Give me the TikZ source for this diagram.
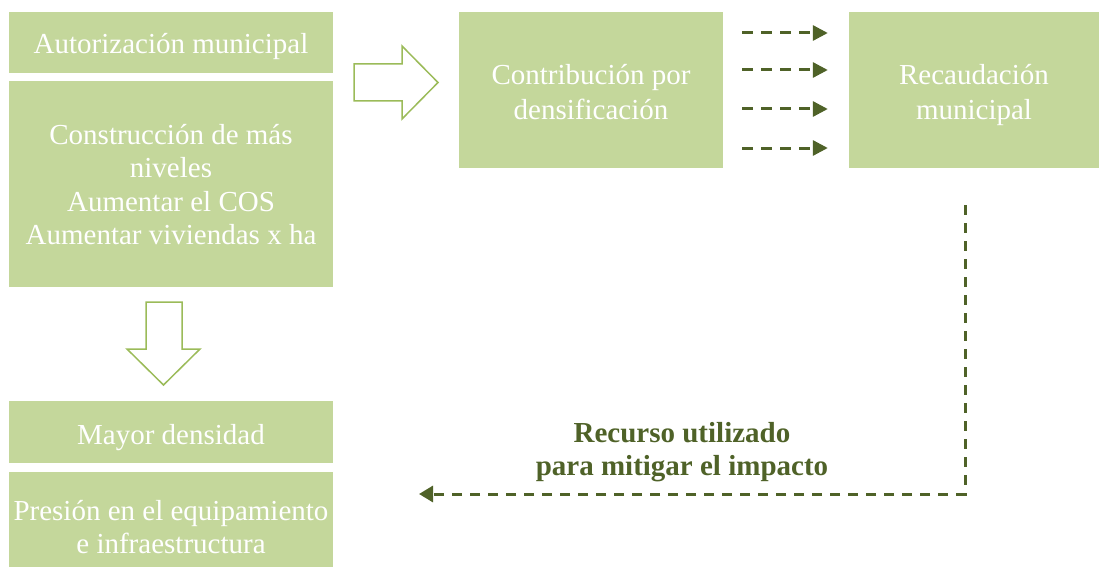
\documentclass[tikz,border=0pt]{standalone}
\usepackage{fontspec}
\setmainfont{Liberation Serif}
\usetikzlibrary{arrows.meta}
\definecolor{boxgreen}{HTML}{C4D79B}
\definecolor{linegreen}{HTML}{9BBB59}
\definecolor{darkolive}{HTML}{4F6228}
\newcommand{\boxtext}[2]{\raisebox{#1}[0pt][0pt]{\begin{tabular}{@{}c@{}}#2\end{tabular}}}
\begin{document}
\begin{tikzpicture}[x=1pt,y=-1pt,
  box/.style={fill=boxgreen,draw=none,text=white,align=center,inner sep=0pt,
    font=\fontsize{29}{33.5}\selectfont},
  blockarrow/.style={draw=linegreen,line width=1.5pt,fill=white,line join=miter},
  dasharrow/.style={draw=darkolive,line width=3pt,dash pattern=on 11pt off 8pt,
    -{Triangle[length=15pt,width=15pt]}},
  fbarrow/.style={draw=darkolive,line width=3pt,dash pattern=on 10pt off 8pt,
    -{Triangle[length=14pt,width=16pt]}},
  lbl/.style={text=darkolive,align=center,font=\fontsize{29}{32.5}\selectfont\bfseries}]
\useasboundingbox (0,0) rectangle (1099,567);

\node[box,minimum width=324pt,minimum height=61pt] (auth) at (171,42.5) {\boxtext{-10.25pt}{Autorización municipal}};
\node[box,minimum width=324pt,minimum height=206pt] (cons) at (171,184) {\boxtext{-10.25pt}{Construcción de más\\niveles\\Aumentar el COS\\Aumentar viviendas x ha}};
\node[box,minimum width=324pt,minimum height=62pt] (mayor) at (171,432) {\boxtext{-12.25pt}{Mayor densidad}};
\node[box,minimum width=324pt,minimum height=95pt] (pres) at (171,519.5) {\boxtext{-17.25pt}{Presión en el equipamiento\\e infraestructura}};
\node[box,minimum width=264pt,minimum height=156pt,font=\fontsize{29}{35}\selectfont] (contrib) at (591,90) {\boxtext{-10.75pt}{Contribución por\\densificación}};
\node[box,minimum width=250pt,minimum height=156pt,font=\fontsize{29}{35}\selectfont] (recaud) at (974,90) {\boxtext{-10.75pt}{Recaudación\\municipal}};

% block arrows
\draw[blockarrow] (354,64) -- (402,64) -- (402,46) -- (438,82.5) -- (402,119) -- (402,101) -- (354,101) -- cycle;
\draw[blockarrow] (146,302) -- (182,302) -- (182,349) -- (200,349) -- (163.5,385) -- (127,349) -- (146,349) -- cycle;

% small dashed arrows
\foreach \s in {57,20,-19,-58}{
  \draw[dasharrow] ([xshift=19pt,yshift=\s pt]contrib.east) -- ([xshift=-21pt,yshift=\s pt]recaud.west);
}

% feedback arrow
\coordinate (fbstart) at (965,205);
\coordinate (fbcorner) at (965,494);
\coordinate (fbend) at (419,494);
\draw[fbarrow] (fbstart) -- (fbcorner) -- (fbend);
\node[lbl] (label) at (682,452) {Recurso utilizado\\para mitigar el impacto};
\end{tikzpicture}
\end{document}
